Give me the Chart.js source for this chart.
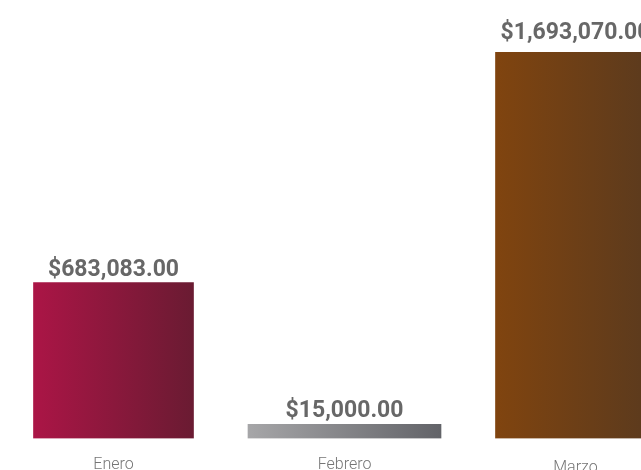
<!DOCTYPE html>
<html lang="es">
<head>
<meta charset="utf-8">
<title>Ventas por mes</title>
<script src="https://cdn.jsdelivr.net/npm/chart.js@4/dist/chart.umd.min.js"></script>
<style>
  html, body {
    margin: 0;
    padding: 0;
    background: #ffffff;
    overflow: hidden;
  }
  body {
    width: 641px;
    height: 470px;
  }
  #chart-wrap {
    position: relative;
    width: 693px;
    height: 498px;
    margin-left: -2px;
  }
</style>
</head>
<body>
<div id="chart-wrap"><canvas id="ventas-chart"></canvas></div>
<script>
/**
 * Ventas mensuales: barras con degradado horizontal y monto encima
 */

const meses = ["Enero", "Febrero", "Marzo"];
const montos = [683083, 15000, 1693070];
const anchos = [160, 193, 160];
const degradados = [
  ["#ab1546", "#6a1b32"],
  ["#a6a6a8", "#626368"],
  ["#80440f", "#5a3a1e"],
];

function formatoMonto(v) {
  return "$" + v.toLocaleString("en-US", { minimumFractionDigits: 2, maximumFractionDigits: 2 });
}

function fondoBarra(i) {
  return (ctx) => {
    const chart = ctx.chart;
    const xs = chart.scales.x;
    if (!chart.chartArea || !xs) return degradados[i][0];
    const cx = xs.getPixelForValue(i);
    const half = anchos[i] / 2;
    const g = chart.ctx.createLinearGradient(cx - half, 0, cx + half, 0);
    g.addColorStop(0, degradados[i][0]);
    g.addColorStop(1, degradados[i][1]);
    return g;
  };
}

// un dataset por mes para poder dar a cada barra su propio ancho
const datasets = meses.map((m, i) => ({
  label: m,
  data: montos.map((v, j) => (j === i ? v : null)),
  backgroundColor: fondoBarra(i),
  barThickness: anchos[i],
  minBarLength: 14,
  borderWidth: 0,
}));

const etiquetasMonto = {
  id: "etiquetasMonto",
  afterDatasetsDraw(chart) {
    const ctx = chart.ctx;
    ctx.save();
    ctx.font = "bold 23px Roboto, 'Noto Sans', sans-serif";
    ctx.fillStyle = "#676767";
    ctx.textAlign = "center";
    ctx.textBaseline = "alphabetic";
    chart.data.datasets.forEach((ds, i) => {
      const bar = chart.getDatasetMeta(i).data[i];
      if (!bar) return;
      // la barra más alta deja algo más de aire a su etiqueta
      const gap = bar.y - chart.chartArea.top < 2 ? 13 : 7;
      ctx.fillText(formatoMonto(montos[i]), bar.x, bar.y - gap);
    });
    ctx.restore();
  },
};

new Chart(document.getElementById("ventas-chart"), {
  type: "bar",
  data: { labels: meses, datasets },
  plugins: [etiquetasMonto],
  options: {
    responsive: true,
    maintainAspectRatio: false,
    animation: false,
    layout: { padding: { top: 52, left: 0, right: 0, bottom: 0 } },
    datasets: { bar: { grouped: false } },
    plugins: {
      legend: { display: false },
      tooltip: { enabled: false },
    },
    scales: {
      x: {
        grid: { display: false, drawTicks: false },
        border: { display: false },
        ticks: {
          padding: 17,
          color: "#757575",
          font: (c) => ({
            family: "Roboto, 'Noto Sans', sans-serif",
            size: 16,
            weight: 300,
            lineHeight: c.index === 2 ? 1.6 : 1.2,
          }),
        },
      },
      y: {
        display: false,
        beginAtZero: true,
        min: 0,
        max: Math.max(...montos),
      },
    },
  },
});
</script>
</body>
</html>
